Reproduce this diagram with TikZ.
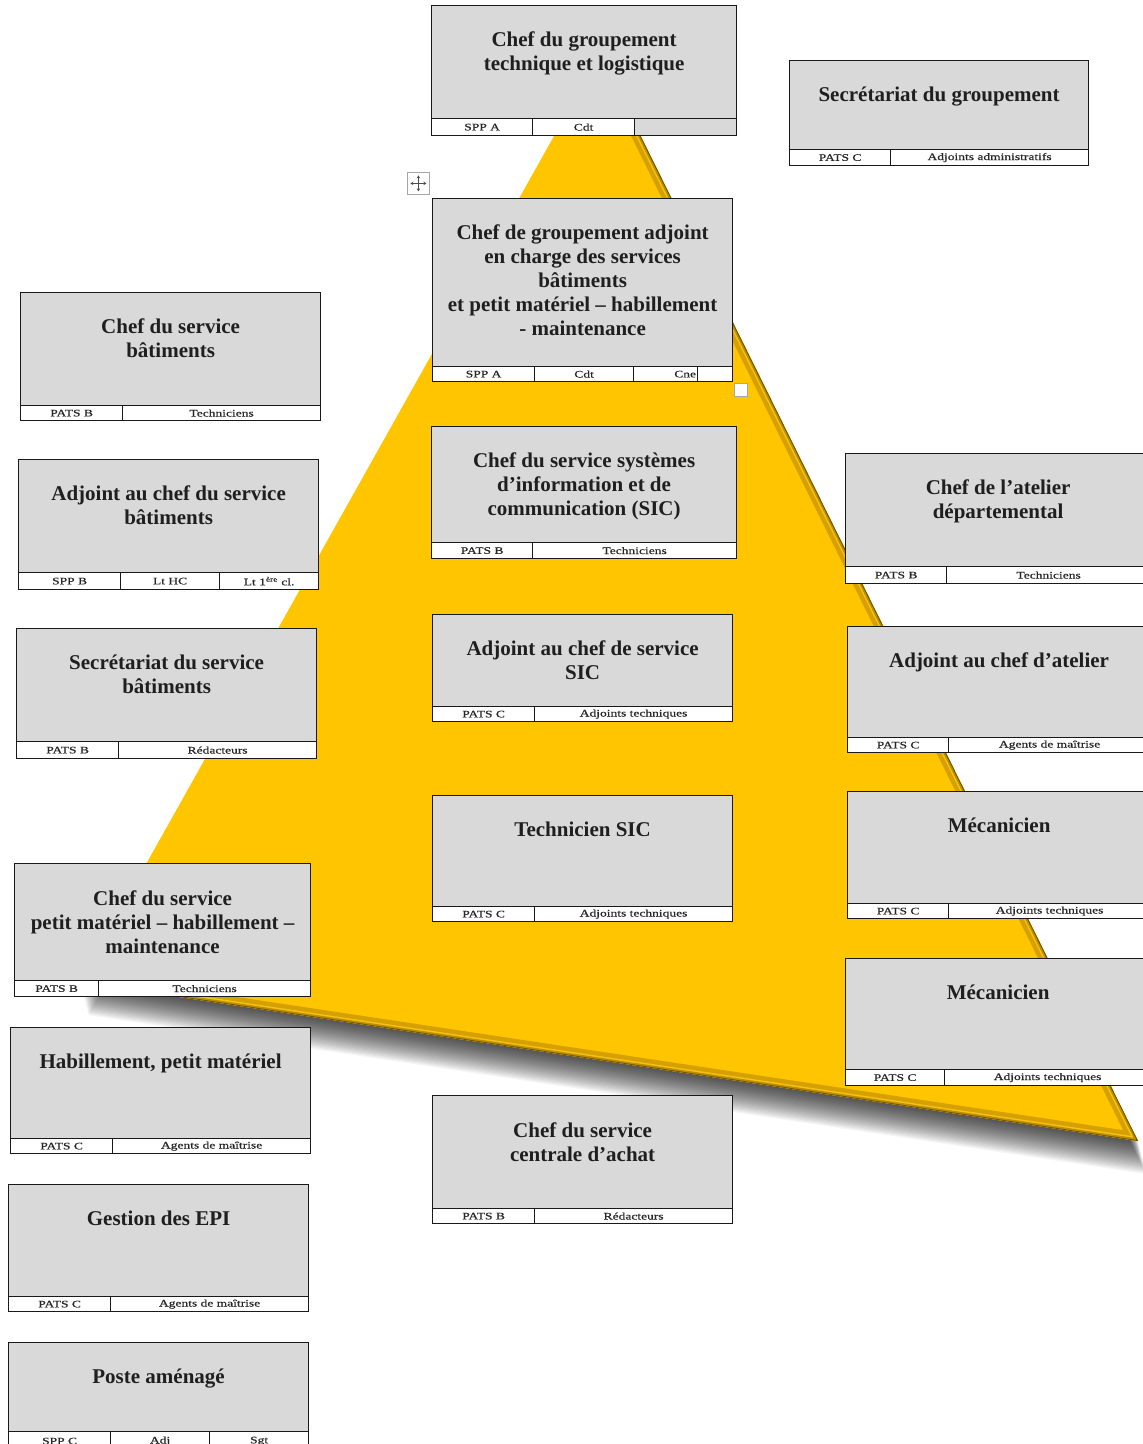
\documentclass[tikz,border=0pt]{standalone}
\usepackage{fontspec}
\setmainfont{Liberation Serif}
\newfontfamily\cellfont[FakeStretch=1.35,FakeBold=0.5]{Liberation Serif}
\usetikzlibrary{calc,arrows.meta}
\definecolor{tri}{HTML}{FFC600}
\definecolor{triband}{HTML}{D6A000}
\definecolor{trilight}{HTML}{F2C21A}
\definecolor{tridark}{HTML}{C08F00}
\definecolor{triedge}{HTML}{6E5200}
\definecolor{boxgray}{HTML}{D9D9D9}
\tikzset{
  mainbox/.style={draw=black!90, line width=1.2pt, fill=boxgray, inner sep=0pt, rectangle},
  cellbox/.style={draw=black!90, line width=1.2pt, fill=white, inner sep=0pt, rectangle,
    font=\cellfont\fontsize{10}{10}\selectfont, text=black!85},
  celltext/.style={inner sep=0pt, font=\cellfont\fontsize{10}{10}\selectfont, text=black!85},
  titletext/.style={font=\bfseries\fontsize{21}{24}\selectfont, align=center, inner sep=0pt, text=black!88},
  handlebox/.style={draw=gray!70, fill=white, inner sep=0pt, line width=0.8pt, rectangle},
  movearrow/.style={black!70, line width=0.8pt, {Stealth[length=3pt,width=3.5pt]}-{Stealth[length=3pt,width=3.5pt]}}
}
% name, x1, y1, x2, footer-top y, title
\newcommand\orgbox[6]{%
  \pgfmathsetmacro\obw{#4-#2}\pgfmathsetmacro\obh{#5-#3}%
  \node[mainbox, minimum width=\obw pt, minimum height=\obh pt, anchor=north west] (#1) at (#2,#3) {};
  \node[titletext, anchor=north] (#1-t) at ($(#1.north)+(0,27)$) {#6};
}
% [style], name, x1, x2, y1, y2, text
\newcommand\orgcell[7][]{%
  \pgfmathsetmacro\ocw{#4-#3}\pgfmathsetmacro\och{#6-#5}%
  \node[cellbox, minimum width=\ocw pt, minimum height=\och pt, anchor=north west, #1] (#2) at (#3,#5) {#7};
}
\begin{document}
\begin{tikzpicture}[x=1pt,y=-1pt]
\useasboundingbox (0,0) rectangle (1143,1444);
\fill[white] (0,0) rectangle (1143,1444);

% ---- pyramid ----
\coordinate (apex) at (600,54);
\coordinate (bl) at (80,982);
\coordinate (br) at (1138,1141);
\foreach \k in {2,3.2,...,34}{
  \fill[black, opacity=0.035] ([shift={(0.25*\k,\k)}]apex) -- ([shift={(0.25*\k,\k)}]bl) -- ([shift={(0.25*\k,\k)}]br) -- cycle;
}
\fill[tri] (apex) -- (bl) -- (br) -- cycle;
\begin{scope}
  \clip (apex) -- (bl) -- (br) -- cycle;
  \draw[triband, line width=17pt, line join=miter] (apex) -- (br) -- (bl);
  \draw[trilight, line width=8pt, line join=miter] (apex) -- (br) -- (bl);
  \draw[tridark, line width=5pt, line join=miter] (apex) -- (br) -- (bl);
  \draw[triedge, line width=1.6pt, line join=miter] (apex) -- (br) -- (bl);
\end{scope}

% ---- handles ----
\node[handlebox, minimum size=22pt, anchor=north west] (mv) at (407,172) {};
\draw[movearrow] ($(mv.center)+(-8,0)$) -- ($(mv.center)+(8,0)$);
\draw[movearrow] ($(mv.center)+(0,-8)$) -- ($(mv.center)+(0,8)$);

% ---- centre column ----
\orgbox{g1}{431}{5}{736}{118}{Chef du groupement\\technique et logistique}
\orgcell{g1a}{431}{532}{118}{135}{SPP A}
\orgcell{g1b}{532}{634}{118}{135}{Cdt}
\orgcell[fill=boxgray]{g1c}{634}{736}{118}{135}{}

\orgbox{ga}{432}{198}{732}{366}{Chef de groupement adjoint\\en charge des services\\bâtiments\\et petit matériel – habillement\\- maintenance}
\orgcell{gaa}{432}{534}{366}{381}{SPP A}
\orgcell{gab}{534}{633}{366}{381}{Cdt}
\orgcell{gac}{633}{697}{366}{381}{}
\orgcell{gad}{697}{732}{366}{381}{}
\node[celltext, anchor=east] (gac-t) at ($(gac.east)+(-2,0)$) {Cne};
\node[handlebox, minimum size=13pt, anchor=north west] (rs) at (734,383) {};

\orgbox{sic}{431}{426}{736}{542}{Chef du service systèmes\\d’information et de\\communication (SIC)}
\orgcell{sica}{431}{532}{542}{558}{PATS B}
\orgcell{sicb}{532}{736}{542}{558}{Techniciens}

\orgbox{asic}{432}{614}{732}{706}{Adjoint au chef de service\\SIC}
\orgcell{asica}{432}{534}{706}{721}{PATS C}
\orgcell{asicb}{534}{732}{706}{721}{Adjoints techniques}

\orgbox{tsic}{432}{795}{732}{906}{Technicien SIC}
\orgcell{tsica}{432}{534}{906}{921}{PATS C}
\orgcell{tsicb}{534}{732}{906}{921}{Adjoints techniques}

\orgbox{ca}{432}{1095}{732}{1208}{Chef du service\\centrale d’achat}
\orgcell{caa}{432}{534}{1208}{1223}{PATS B}
\orgcell{cab}{534}{732}{1208}{1223}{Rédacteurs}

% ---- top right ----
\orgbox{sg}{789}{60}{1088}{149}{Secrétariat du groupement}
\orgcell{sga}{789}{890}{149}{165}{PATS C}
\orgcell{sgb}{890}{1088}{149}{165}{Adjoints administratifs}

% ---- left column ----
\orgbox{sb}{20}{292}{320}{405}{Chef du service\\bâtiments}
\orgcell{sba}{20}{122}{405}{420}{PATS B}
\orgcell{sbb}{122}{320}{405}{420}{Techniciens}

\orgbox{asb}{18}{459}{318}{572}{Adjoint au chef du service\\bâtiments}
\orgcell{asba}{18}{120}{572}{589}{SPP B}
\orgcell{asbb}{120}{219}{572}{589}{Lt HC}
\orgcell{asbc}{219}{318}{572}{589}{Lt 1\textsuperscript{ère} cl.}

\orgbox{ssb}{16}{628}{316}{741}{Secrétariat du service\\bâtiments}
\orgcell{ssba}{16}{118}{741}{758}{PATS B}
\orgcell{ssbb}{118}{316}{741}{758}{Rédacteurs}

\orgbox{pm}{14}{863}{310}{980}{Chef du service\\petit matériel – habillement –\\maintenance}
\orgcell{pma}{14}{98}{980}{996}{PATS B}
\orgcell{pmb}{98}{310}{980}{996}{Techniciens}

\orgbox{hab}{10}{1027}{310}{1138}{Habillement, petit matériel}
\orgcell{haba}{10}{112}{1138}{1153}{PATS C}
\orgcell{habb}{112}{310}{1138}{1153}{Agents de maîtrise}

\orgbox{epi}{8}{1184}{308}{1296}{Gestion des EPI}
\orgcell{epia}{8}{110}{1296}{1311}{PATS C}
\orgcell{epib}{110}{308}{1296}{1311}{Agents de maîtrise}

\orgbox{pa}{8}{1342}{308}{1431}{Poste aménagé}
\orgcell{paa}{8}{110}{1431}{1450}{SPP C}
\orgcell{pab}{110}{209}{1431}{1450}{Adj}
\orgcell{pac}{209}{308}{1431}{1450}{Sgt}

% ---- right column ----
\orgbox{at}{845}{453}{1150}{566}{Chef de l’atelier\\départemental}
\orgcell{ata}{845}{946}{566}{583}{PATS B}
\orgcell{atb}{946}{1150}{566}{583}{Techniciens}

\orgbox{aat}{847}{626}{1150}{737}{Adjoint au chef d’atelier}
\orgcell{aata}{847}{948}{737}{752}{PATS C}
\orgcell{aatb}{948}{1150}{737}{752}{Agents de maîtrise}

\orgbox{m1}{847}{791}{1150}{903}{Mécanicien}
\orgcell{m1a}{847}{948}{903}{918}{PATS C}
\orgcell{m1b}{948}{1150}{903}{918}{Adjoints techniques}

\orgbox{m2}{845}{958}{1150}{1069}{Mécanicien}
\orgcell{m2a}{845}{944}{1069}{1085}{PATS C}
\orgcell{m2b}{944}{1150}{1069}{1085}{Adjoints techniques}
\end{tikzpicture}
\end{document}
